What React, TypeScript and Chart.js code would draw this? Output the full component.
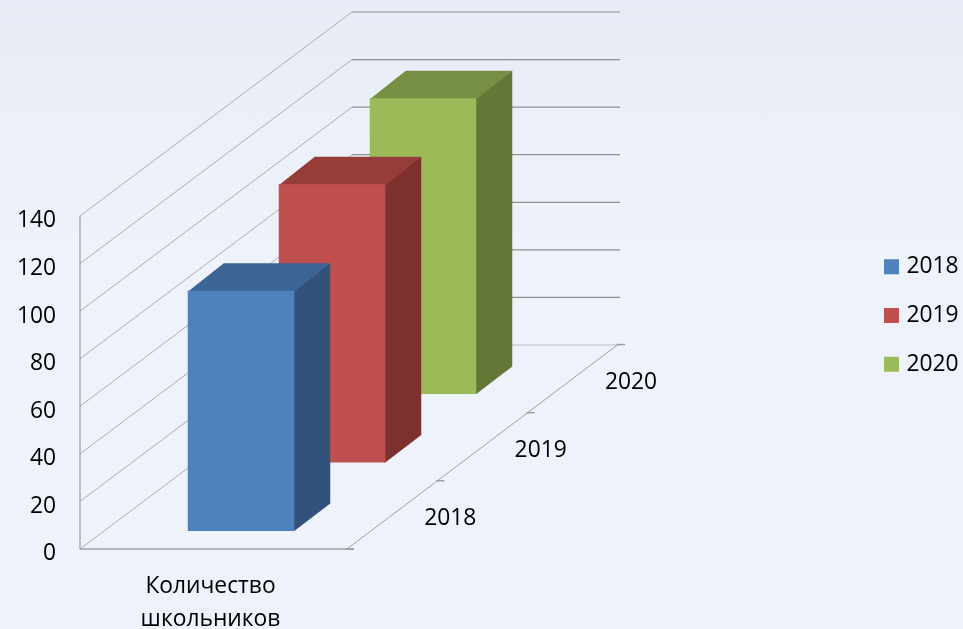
import React, { useEffect, useRef } from "react";
import { Chart, registerables } from "chart.js";

Chart.register(...registerables);

const categories = [["Количество", "школьников"]];
const seriesNames = ["2018", "2019", "2020"];
const values2018 = [101];
const values2019 = [117];
const values2020 = [124.3];
const yMax = 140;
const yStep = 20;

const fronts = ["#4F81BD", "#C0504D", "#9BBB59"];
const tops = ["#3D6594", "#963D3A", "#778F42"];
const sides = ["#32527B", "#7D312F", "#657737"];

const FONT = '"Open Sans"';
const FONT_SIZE = 22.8;
const TEXT = "#000000";

// Projection of the depth axis, in pixels
const WALL_DX = 272;
const WALL_DY = -204;
const FLOOR_DX = 271;
const FLOOR_DY = -204.5;
const BACK_RIGHT = 620;
const BAR_DEPTH_DX = 36;
const BAR_DEPTH_DY = -27.5;
const BAR_START_DX = 27.5;
const BAR_START_DY = -18;
const BAR_STEP_DX = 91;
const BAR_STEP_DY = -68.5;

const line = (ctx: CanvasRenderingContext2D, x1: number, y1: number, x2: number, y2: number, color: string, w = 1) => {
  ctx.beginPath();
  ctx.moveTo(x1, y1);
  ctx.lineTo(x2, y2);
  ctx.strokeStyle = color;
  ctx.lineWidth = w;
  ctx.stroke();
};

const threeD = {
  id: "threeD",
  beforeLayout(chart: any) {
    const lg = chart.legend;
    if (!lg.__wrapped) {
      lg.__wrapped = true;
      const fit = lg.fit;
      lg.fit = function () {
        fit.call(this);
        this.width = chart.width - 347;
      };
    }
  },
  afterLayout(chart: any) {
    const lg = chart.legend;
    const pad = lg.options.labels.padding;
    const h = lg.columnSizes ? lg.columnSizes[0].height : lg.height;
    lg.left = 888 - pad;
    lg.right = chart.width;
    lg.top = 315.5 - h / 2 - pad;
    lg.bottom = 315.5 + h / 2 + pad;
  },
  beforeDatasetsDraw(chart: any) {
    const { ctx, scales } = chart;
    const y = scales.y;
    const left = scales.x.left;
    const right = scales.x.right;
    const y0 = y.getPixelForValue(0);
    ctx.save();
    // walls
    y.ticks.forEach((t: any) => {
      const py = y.getPixelForValue(t.value);
      const bx = left + WALL_DX;
      const by = py + WALL_DY;
      line(ctx, left, py, bx, by, "#ABADB2");
      line(ctx, bx, by, BACK_RIGHT, by, t.value === 0 ? "#D5D8DE" : "#8E9094", t.value === 0 ? 2 : 1.2);
    });
    line(ctx, left, y.getPixelForValue(yMax), left, y0, "#9A9A9A", 1.2);
    line(ctx, left, y0, right + 7, y0, "#A0A0A0", 1.4);
    // floor edge and depth ticks
    line(ctx, right, y0, right + FLOOR_DX, y0 + FLOOR_DY, "#A0A0A0");
    const n = seriesNames.length;
    for (let i = 0; i <= n; i++) {
      const tx = right + (FLOOR_DX * i) / n;
      const ty = y0 + (FLOOR_DY * i) / n;
      line(ctx, tx - 1, ty, tx + 7, ty, "#9A9A9A", 1.4);
      if (i > 0) {
        ctx.fillStyle = TEXT;
        ctx.font = `${FONT_SIZE}px ${FONT}`;
        ctx.textAlign = "center";
        ctx.textBaseline = "middle";
        ctx.fillText(seriesNames[i - 1], tx + 13, ty + 38);
      }
    }
    ctx.restore();
  },
  beforeDatasetDraw(chart: any, args: any) {
    const { ctx } = chart;
    const i = args.index;
    ctx.save();
    ctx.translate(BAR_START_DX + BAR_STEP_DX * i, BAR_START_DY + BAR_STEP_DY * i);
    args.meta.data.forEach((bar: any) => {
      const { x, y, base, width } = bar.getProps(["x", "y", "base", "width"], true);
      const l = x - width / 2;
      const r = x + width / 2;
      ctx.fillStyle = sides[i];
      ctx.beginPath();
      ctx.moveTo(r - 1, y);
      ctx.lineTo(r + BAR_DEPTH_DX, y + BAR_DEPTH_DY);
      ctx.lineTo(r + BAR_DEPTH_DX, base + BAR_DEPTH_DY);
      ctx.lineTo(r, base);
      ctx.lineTo(r - 1, base);
      ctx.closePath();
      ctx.fill();
      ctx.fillStyle = tops[i];
      ctx.beginPath();
      ctx.moveTo(l, y + 1);
      ctx.lineTo(l + BAR_DEPTH_DX, y + BAR_DEPTH_DY);
      ctx.lineTo(r + BAR_DEPTH_DX, y + BAR_DEPTH_DY);
      ctx.lineTo(r, y + 1);
      ctx.closePath();
      ctx.fill();
    });
  },
  afterDatasetDraw(chart: any) {
    chart.ctx.restore();
  },
};

export default function App() {
  const ref = useRef<HTMLCanvasElement | null>(null);
  useEffect(() => {
    const chart = new Chart(ref.current as HTMLCanvasElement, {
      type: "bar",
      data: {
        labels: categories as any,
        datasets: [values2018, values2019, values2020].map((data, i) => ({
          label: seriesNames[i],
          data,
          backgroundColor: fronts[i],
          borderWidth: 0,
          grouped: false,
          clip: false as any,
          categoryPercentage: 1,
          barPercentage: 106.5 / 267,
        })),
      },
      options: {
        responsive: false,
        animation: false,
        layout: { padding: { top: 216, left: 0, right: 0, bottom: 0 } },
        plugins: {
          tooltip: { enabled: false },
          legend: {
            position: "right",
            labels: {
              color: TEXT,
              font: { family: FONT, size: FONT_SIZE },
              boxWidth: 7,
              boxHeight: 7,
              padding: 26,
              generateLabels: (c: any) =>
                Chart.defaults.plugins.legend.labels.generateLabels(c).map((it: any, i: number) => ({
                  ...it,
                  fillStyle: fronts[i],
                  strokeStyle: fronts[i],
                  lineWidth: 8,
                })),
            },
          },
        },
        scales: {
          x: {
            grid: { display: false },
            border: { display: false },
            afterFit: (s: any) => {
              s.height = 80;
            },
            ticks: {
              color: TEXT,
              font: { family: FONT, size: FONT_SIZE, lineHeight: 1.45 },
              padding: 12.5,
              labelOffset: -3,
              maxRotation: 0,
              autoSkip: false,
            },
          },
          y: {
            min: 0,
            max: yMax,
            grid: { display: false },
            border: { display: false },
            afterFit: (s: any) => {
              s.width = 80;
            },
            ticks: {
              stepSize: yStep,
              color: TEXT,
              font: { family: FONT, size: FONT_SIZE },
              padding: 16,
              labelOffset: 5,
            },
          },
        },
      },
      plugins: [threeD],
    } as any);
    return () => chart.destroy();
  }, []);
  return (
    <div
      style={{
        position: "fixed",
        inset: 0,
        background: "linear-gradient(180deg, #E6EBF5 0%, #EBF0F9 22%, #EEF2FB 45%, #EEF2FB 100%)",
      }}
    >
      <canvas ref={ref} width={963} height={629} style={{ display: "block" }} />
    </div>
  );
}
